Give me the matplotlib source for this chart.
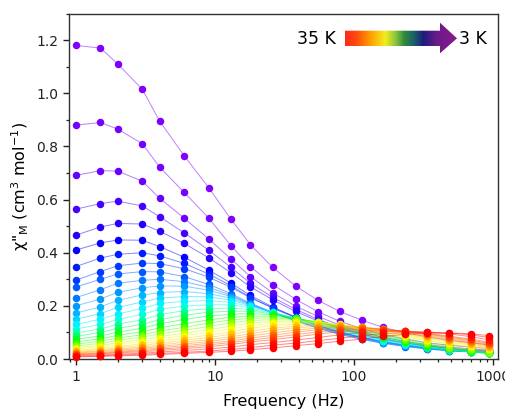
import numpy as np
import matplotlib
matplotlib.use("Agg")
import matplotlib.pyplot as plt
from matplotlib.colors import hsv_to_rgb, LinearSegmentedColormap
from matplotlib.patches import Polygon
from matplotlib.ticker import MultipleLocator, LogLocator, NullFormatter, FuncFormatter

plt.rcParams['font.family'] = ['DejaVu Sans']
plt.rcParams['mathtext.default'] = 'regular'

# ac frequencies (Hz)
freq = [1, 1.5, 2, 3, 4, 6, 9, 13, 18, 26, 38, 55, 79, 114, 162, 234, 337, 481, 693, 940]

# temperatures (K), 3 K ... 35 K
temps = list(range(3, 36))

# chi'' (cm3 mol-1), one row per temperature
chi2 = [
    [1.180, 1.170, 1.110, 1.015, 0.895, 0.765, 0.645, 0.527, 0.430, 0.345, 0.275, 0.221, 0.179, 0.146, 0.119, 0.099, 0.083, 0.071, 0.061, 0.053],  # 3 K
    [0.880, 0.890, 0.865, 0.810, 0.722, 0.627, 0.531, 0.427, 0.347, 0.280, 0.225, 0.178, 0.142, 0.114, 0.092, 0.075, 0.061, 0.052, 0.045, 0.039],  # 4 K
    [0.691, 0.709, 0.707, 0.669, 0.605, 0.530, 0.452, 0.377, 0.310, 0.249, 0.199, 0.160, 0.128, 0.102, 0.082, 0.066, 0.054, 0.045, 0.038, 0.033],  # 5 K
    [0.564, 0.585, 0.594, 0.576, 0.535, 0.475, 0.410, 0.345, 0.285, 0.232, 0.187, 0.149, 0.119, 0.095, 0.076, 0.061, 0.050, 0.041, 0.034, 0.030],  # 6 K
    [0.466, 0.497, 0.510, 0.508, 0.481, 0.435, 0.381, 0.325, 0.271, 0.223, 0.179, 0.143, 0.115, 0.092, 0.073, 0.059, 0.048, 0.039, 0.032, 0.028],  # 7 K
    [0.410, 0.437, 0.448, 0.447, 0.423, 0.383, 0.335, 0.286, 0.239, 0.196, 0.158, 0.126, 0.101, 0.081, 0.064, 0.052, 0.042, 0.034, 0.028, 0.025],  # 8 K
    [0.348, 0.380, 0.394, 0.400, 0.388, 0.360, 0.320, 0.276, 0.232, 0.192, 0.156, 0.126, 0.100, 0.080, 0.064, 0.051, 0.041, 0.034, 0.028, 0.024],  # 9 K
    [0.297, 0.329, 0.351, 0.361, 0.359, 0.340, 0.308, 0.270, 0.230, 0.192, 0.157, 0.127, 0.101, 0.081, 0.065, 0.052, 0.042, 0.034, 0.028, 0.024],  # 10 K
    [0.271, 0.300, 0.320, 0.329, 0.328, 0.310, 0.281, 0.246, 0.210, 0.175, 0.144, 0.116, 0.092, 0.074, 0.059, 0.047, 0.038, 0.031, 0.027, 0.023],  # 11 K
    [0.231, 0.261, 0.285, 0.296, 0.300, 0.291, 0.270, 0.240, 0.207, 0.174, 0.144, 0.117, 0.095, 0.075, 0.060, 0.048, 0.038, 0.031, 0.027, 0.023],  # 12 K
    [0.200, 0.226, 0.251, 0.268, 0.275, 0.274, 0.259, 0.235, 0.206, 0.175, 0.146, 0.120, 0.097, 0.077, 0.062, 0.050, 0.039, 0.032, 0.027, 0.023],  # 13 K
    [0.173, 0.196, 0.221, 0.241, 0.250, 0.254, 0.246, 0.229, 0.203, 0.175, 0.147, 0.122, 0.099, 0.080, 0.064, 0.051, 0.041, 0.033, 0.027, 0.023],  # 14 K
    [0.150, 0.171, 0.194, 0.215, 0.229, 0.235, 0.234, 0.222, 0.201, 0.176, 0.150, 0.125, 0.103, 0.083, 0.066, 0.053, 0.042, 0.034, 0.027, 0.023],  # 15 K
    [0.130, 0.150, 0.169, 0.191, 0.209, 0.217, 0.220, 0.213, 0.198, 0.176, 0.152, 0.128, 0.106, 0.086, 0.069, 0.055, 0.044, 0.035, 0.028, 0.023],  # 16 K
    [0.113, 0.130, 0.149, 0.168, 0.187, 0.199, 0.204, 0.204, 0.193, 0.174, 0.153, 0.130, 0.109, 0.089, 0.072, 0.057, 0.044, 0.034, 0.026, 0.021],  # 17 K
    [0.098, 0.113, 0.131, 0.148, 0.167, 0.182, 0.189, 0.192, 0.186, 0.173, 0.154, 0.132, 0.111, 0.092, 0.075, 0.060, 0.045, 0.035, 0.027, 0.021],  # 18 K
    [0.085, 0.100, 0.115, 0.131, 0.148, 0.165, 0.176, 0.180, 0.180, 0.170, 0.154, 0.135, 0.115, 0.096, 0.079, 0.063, 0.047, 0.036, 0.028, 0.021],  # 19 K
    [0.074, 0.087, 0.101, 0.116, 0.132, 0.149, 0.162, 0.168, 0.171, 0.166, 0.154, 0.137, 0.118, 0.099, 0.082, 0.065, 0.049, 0.037, 0.028, 0.021],  # 20 K
    [0.064, 0.076, 0.089, 0.103, 0.117, 0.133, 0.147, 0.157, 0.161, 0.161, 0.152, 0.138, 0.121, 0.103, 0.086, 0.069, 0.052, 0.040, 0.030, 0.022],  # 21 K
    [0.056, 0.067, 0.079, 0.091, 0.105, 0.119, 0.135, 0.147, 0.153, 0.155, 0.150, 0.140, 0.124, 0.107, 0.090, 0.073, 0.056, 0.043, 0.033, 0.024],  # 22 K
    [0.049, 0.059, 0.070, 0.082, 0.095, 0.108, 0.122, 0.136, 0.145, 0.148, 0.148, 0.140, 0.127, 0.111, 0.095, 0.078, 0.060, 0.047, 0.036, 0.027],  # 23 K
    [0.043, 0.051, 0.061, 0.073, 0.084, 0.097, 0.110, 0.124, 0.136, 0.141, 0.143, 0.139, 0.129, 0.114, 0.099, 0.083, 0.069, 0.056, 0.045, 0.036],  # 24 K
    [0.038, 0.046, 0.055, 0.065, 0.076, 0.088, 0.100, 0.113, 0.126, 0.134, 0.137, 0.137, 0.130, 0.117, 0.103, 0.088, 0.073, 0.060, 0.048, 0.039],  # 25 K
    [0.033, 0.040, 0.048, 0.057, 0.068, 0.078, 0.090, 0.102, 0.116, 0.126, 0.131, 0.133, 0.129, 0.120, 0.106, 0.092, 0.077, 0.064, 0.052, 0.042],  # 26 K
    [0.029, 0.035, 0.042, 0.051, 0.060, 0.070, 0.081, 0.093, 0.105, 0.116, 0.124, 0.127, 0.127, 0.120, 0.109, 0.095, 0.081, 0.068, 0.056, 0.045],  # 27 K
    [0.026, 0.031, 0.037, 0.045, 0.053, 0.063, 0.073, 0.084, 0.095, 0.108, 0.118, 0.122, 0.124, 0.120, 0.112, 0.099, 0.086, 0.072, 0.060, 0.048],  # 28 K
    [0.023, 0.028, 0.033, 0.040, 0.047, 0.056, 0.066, 0.076, 0.087, 0.098, 0.109, 0.116, 0.120, 0.119, 0.113, 0.102, 0.089, 0.076, 0.064, 0.052],  # 29 K
    [0.020, 0.024, 0.029, 0.035, 0.042, 0.050, 0.059, 0.068, 0.079, 0.089, 0.101, 0.110, 0.114, 0.116, 0.113, 0.104, 0.093, 0.080, 0.067, 0.056],  # 30 K
    [0.018, 0.021, 0.026, 0.031, 0.037, 0.044, 0.053, 0.062, 0.071, 0.081, 0.092, 0.102, 0.109, 0.112, 0.111, 0.105, 0.095, 0.083, 0.071, 0.059],  # 31 K
    [0.016, 0.019, 0.023, 0.027, 0.032, 0.039, 0.046, 0.055, 0.064, 0.073, 0.083, 0.094, 0.103, 0.106, 0.108, 0.105, 0.097, 0.086, 0.075, 0.063],  # 32 K
    [0.013, 0.015, 0.018, 0.022, 0.026, 0.032, 0.038, 0.045, 0.054, 0.062, 0.071, 0.081, 0.091, 0.100, 0.103, 0.105, 0.102, 0.095, 0.084, 0.072],  # 33 K
    [0.010, 0.012, 0.015, 0.018, 0.021, 0.025, 0.030, 0.036, 0.043, 0.052, 0.060, 0.069, 0.078, 0.088, 0.096, 0.099, 0.101, 0.098, 0.091, 0.081],  # 34 K
    [0.008, 0.010, 0.012, 0.014, 0.017, 0.021, 0.025, 0.029, 0.035, 0.042, 0.050, 0.058, 0.067, 0.075, 0.085, 0.093, 0.097, 0.098, 0.095, 0.088],  # 35 K
]

fig = plt.figure(figsize=(5.05, 4.11), dpi=100)
ax = fig.add_axes([0.1376, 0.1265, 0.8485, 0.8406])

# rainbow palette: violet (3 K) -> blue -> cyan -> green -> yellow -> red (35 K)
hue_pos = [0.0, 0.06, 0.16, 0.31, 0.42, 0.55, 0.69, 0.80, 0.94, 1.0]
hue_deg = [270, 265, 240, 205, 180, 120, 60, 35, 5, 0]

n = len(temps)
for i, (T, row) in enumerate(zip(temps, chi2)):
    h = np.interp(i / (n - 1), hue_pos, hue_deg) / 360.0
    c = hsv_to_rgb((h, 1.0, 1.0))
    ax.plot(freq, row, '-', color=c, lw=0.7, alpha=0.5, zorder=2 + i)
    ax.plot(freq, row, 'o', color=c, ms=5.4, mew=0, zorder=2 + i, clip_on=False)

ax.set_xscale('log')
ax.set_xlim(0.898, 1086)
ax.set_ylim(0, 1.30)

ax.xaxis.set_major_locator(LogLocator(base=10, numticks=10))
ax.xaxis.set_minor_locator(LogLocator(base=10, subs=np.arange(2, 10), numticks=20))
ax.xaxis.set_minor_formatter(NullFormatter())
ax.xaxis.set_major_formatter(FuncFormatter(lambda v, p: '%d' % v))
ax.yaxis.set_major_locator(MultipleLocator(0.2))
ax.yaxis.set_minor_locator(MultipleLocator(0.1))
ax.yaxis.set_major_formatter(FuncFormatter(lambda v, p: '%.1f' % v))

ax.tick_params(which='both', direction='out', top=False, right=False, labelsize=10, colors='#222222')
ax.tick_params(which='major', length=4.5, width=1)
ax.tick_params(which='minor', length=2.5, width=0.9)
for s in ax.spines.values():
    s.set_linewidth(1.0)
    s.set_color('#333333')

ax.set_xlabel('Frequency (Hz)', fontsize=11.5, labelpad=7)
ax.set_ylabel('\u03c7"$_{M}$ (cm$^{3}$ mol$^{-1}$)', fontsize=11.5, labelpad=4)

# temperature arrow with gradient fill
ax2 = fig.add_axes([340 / 505, 1 - 57 / 411, 120 / 505, 37 / 411])
ax2.set_xlim(340, 460)
ax2.set_ylim(57, 20)
ax2.axis('off')
grad = LinearSegmentedColormap.from_list('tgrad', [
    (0.00, '#ff2a1a'), (0.10, '#ff4a10'), (0.22, '#ff9a00'), (0.36, '#f2ee1e'),
    (0.45, '#8cc63f'), (0.53, '#2e8b3a'), (0.62, '#1b5e6a'), (0.70, '#1c1c7e'),
    (0.82, '#6a1a8a'), (1.00, '#8c1a8c')])
arrow = Polygon([(345, 30.7), (440, 30.7), (440, 22.7), (457, 38.3),
                 (440, 53.3), (440, 46), (345, 46)], closed=True,
                facecolor='none', edgecolor='none')
ax2.add_patch(arrow)
img = ax2.imshow(np.linspace(0, 1, 256)[None, :], cmap=grad, aspect='auto',
                 extent=[345, 457, 53.3, 22.7], interpolation='bilinear')
img.set_clip_path(arrow)
fig.text(336 / 505, 1 - 38.5 / 411, '35 K', ha='right', va='center', fontsize=12.5)
fig.text(459 / 505, 1 - 38.5 / 411, '3 K', ha='left', va='center', fontsize=12.5)

fig.savefig('out.png', dpi=100)
